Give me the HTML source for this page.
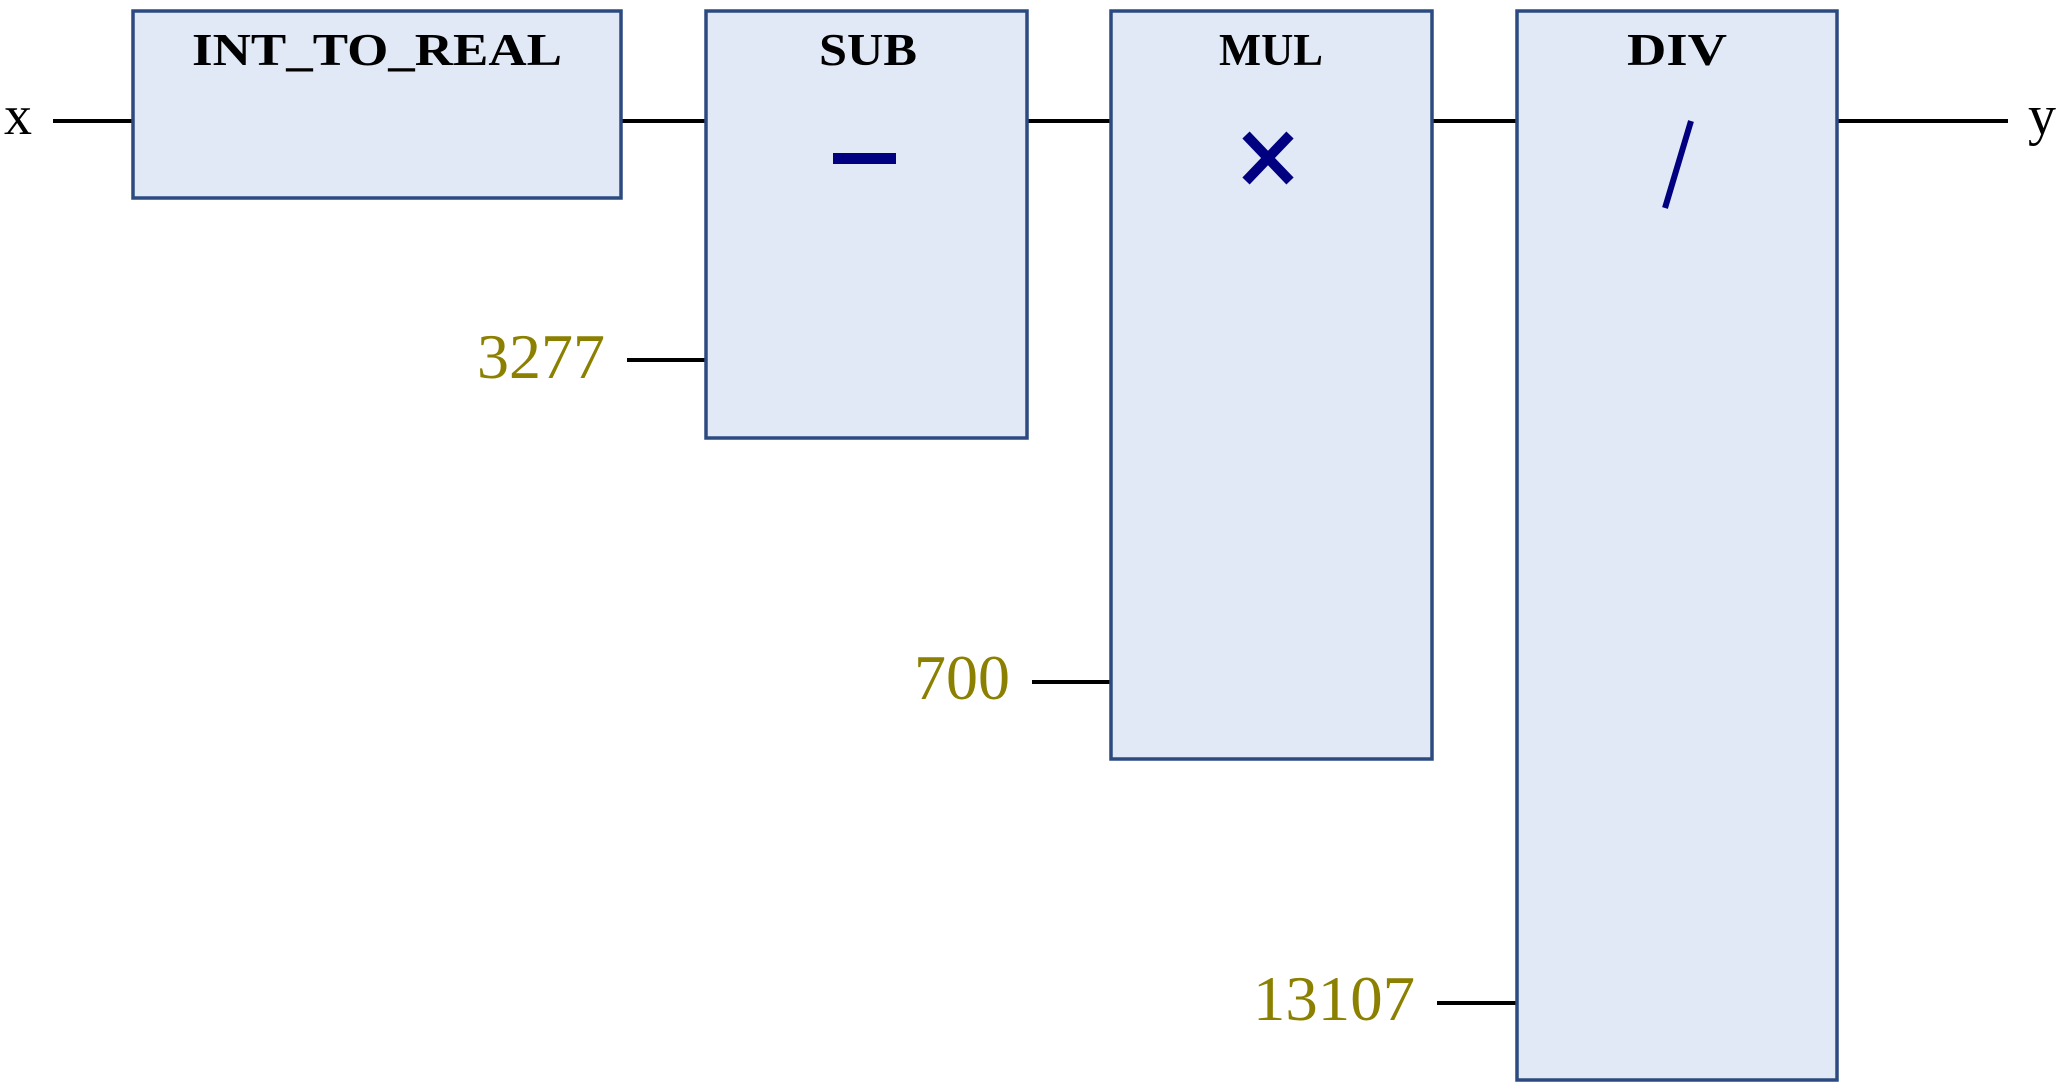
<!DOCTYPE html>
<html><head><meta charset="utf-8"><style>
html,body{margin:0;padding:0;background:#fff;width:2059px;height:1085px;overflow:hidden}
</style></head><body>
<svg width="2059" height="1085" viewBox="0 0 2059 1085" xmlns="http://www.w3.org/2000/svg">
<g stroke="#000" stroke-width="4">
<line x1="53" y1="121" x2="133" y2="121"/>
<line x1="621" y1="121" x2="706" y2="121"/>
<line x1="1027" y1="121" x2="1111" y2="121"/>
<line x1="1432" y1="121" x2="1517" y2="121"/>
<line x1="1837" y1="121" x2="2008" y2="121"/>
<line x1="627" y1="360" x2="706" y2="360"/>
<line x1="1032" y1="682" x2="1111" y2="682"/>
<line x1="1437" y1="1003" x2="1517" y2="1003"/>
</g>
<g fill="#e1e9f6" stroke="#2c4a80" stroke-width="3.5">
<rect x="133" y="11" width="488" height="187"/>
<rect x="706" y="11" width="321" height="427"/>
<rect x="1111" y="11" width="321" height="748"/>
<rect x="1517" y="11" width="320" height="1069"/>
</g>
<g font-family="Liberation Serif, serif" font-weight="bold" font-size="46" text-anchor="middle" fill="#000">
<text x="377" y="65" textLength="370" lengthAdjust="spacingAndGlyphs">INT_TO_REAL</text>
<text x="868" y="65" textLength="98" lengthAdjust="spacingAndGlyphs">SUB</text>
<text x="1271" y="65" textLength="104" lengthAdjust="spacingAndGlyphs">MUL</text>
<text x="1677" y="65" textLength="100" lengthAdjust="spacingAndGlyphs">DIV</text>
</g>
<rect x="833" y="153" width="63" height="11" fill="#000080"/>
<g stroke="#000080" stroke-width="10" stroke-linecap="butt">
<line x1="1246" y1="135" x2="1290" y2="181"/>
<line x1="1290" y1="135" x2="1246" y2="181"/>
</g>
<line x1="1691" y1="121" x2="1665" y2="208" stroke="#000080" stroke-width="6"/>
<g font-family="Liberation Serif, serif" font-size="56" fill="#000">
<text x="4" y="134" textLength="28" lengthAdjust="spacingAndGlyphs">x</text>
<text x="2028" y="134" textLength="28" lengthAdjust="spacingAndGlyphs">y</text>
</g>
<g font-family="Liberation Serif, serif" font-size="64" fill="#8b8000" text-anchor="end">
<text x="605" y="378" textLength="128" lengthAdjust="spacingAndGlyphs">3277</text>
<text x="1010" y="699" textLength="96" lengthAdjust="spacingAndGlyphs">700</text>
<text x="1415" y="1020" textLength="162" lengthAdjust="spacingAndGlyphs">13107</text>
</g>
</svg>
</body></html>
